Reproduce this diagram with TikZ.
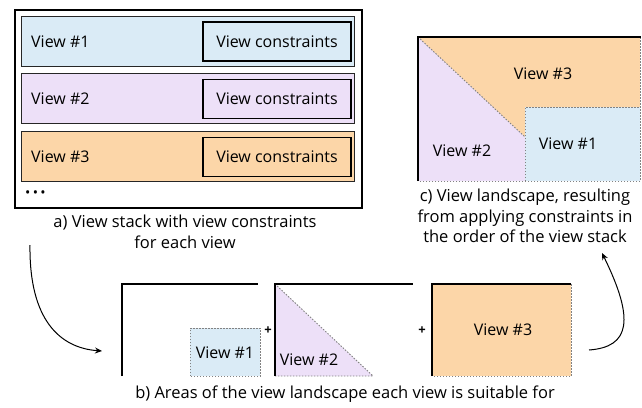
\documentclass[tikz,border=0pt]{standalone}
\usepackage{fontspec}
\setmainfont{Open Sans}
\usetikzlibrary{arrows.meta}
\definecolor{vblue}{RGB}{218,235,246}
\definecolor{vpurple}{RGB}{237,224,248}
\definecolor{vorange}{RGB}{252,214,168}
\definecolor{dotgray}{RGB}{130,130,130}
\tikzset{
  rowbox/.style={draw=black!85, line width=1.3pt, minimum width=333pt, minimum height=50pt, inner sep=0pt},
  conbox/.style={draw=black, line width=1.6pt, minimum width=148pt, minimum height=39pt, inner sep=0pt, font=\fontsize{16}{19}\selectfont},
  lbl/.style={font=\fontsize{16}{19}\selectfont, inner sep=0pt},
  captext/.style={font=\fontsize{16.5}{20.5}\selectfont, align=center, inner sep=0pt},
  frameline/.style={line width=1.6pt, black},
  dotline/.style={dotgray, line width=0.9pt, dash pattern=on 1.5pt off 1.5pt},
  curvearrow/.style={line width=1pt, -{Stealth[length=7pt,width=6pt]}},
}
\begin{document}
\begin{tikzpicture}[x=1pt,y=-1pt]
\useasboundingbox (0,0) rectangle (642,407);
% ---------- panel a ----------
\node[draw=black, line width=1.6pt, minimum width=347pt, minimum height=198pt, inner sep=0pt] (stack) at (188.5,109) {};
\node[rowbox, fill=vblue] (r1) at (188.3,41.3) {};
\node[rowbox, fill=vpurple] (r2) at (188.3,98.5) {};
\node[rowbox, fill=vorange] (r3) at (188.3,156.5) {};
\node[lbl, anchor=west] (t1) at (31,42) {View \#1};
\node[lbl, anchor=west] (t2) at (31,99) {View \#2};
\node[lbl, anchor=west] (t3) at (31,157) {View \#3};
\node[conbox] (c1) at (277,41.5) {View constraints};
\node[conbox] (c2) at (277,99) {View constraints};
\node[conbox] (c3) at (277,157) {View constraints};
\node[lbl, anchor=west, font=\fontsize{14}{16}\selectfont] (dots) at (25,194) {\textbullet\,\textbullet\,\textbullet};
\node[captext] (capa) at (185,232) {a) View stack with view constraints\\for each view};
% ---------- panel c ----------
\fill[vorange] (418,37) rectangle (640,181);
\fill[vpurple] (418,37) -- (525,137) -- (525,181) -- (418,181) -- cycle;
\fill[vblue] (525,107) rectangle (640,181);
\draw[dotline] (418,37) -- (525,137);
\draw[dotline] (525,181) -- (525,107) -- (640,107);
\draw[dotline] (640,37) -- (640,181) -- (418,181);
\draw[frameline] (418,181) -- (418,37) -- (640.5,37);
\node[lbl] (l3) at (543,74) {View \#3};
\node[lbl] (l2) at (462,151) {View \#2};
\node[lbl] (l1) at (568,144) {View \#1};
\node[captext] (capc) at (525,216) {c) View landscape, resulting\\from applying constraints in\\the order of the view stack};
% ---------- panel b ----------
% frame 1
\fill[vblue] (190,328) rectangle (260,376);
\draw[dotline] (190,376) rectangle (260,328);
\draw[frameline] (122,376) -- (122,284) -- (258,284);
\node[lbl] (b1) at (225,353) {View \#1};
\node[lbl, font=\bfseries\fontsize{13}{14}\selectfont] (p1) at (268,331) {+};
% frame 2
\fill[vpurple] (275,284) -- (373,376) -- (275,376) -- cycle;
\draw[dotline] (275,284) -- (373,376) -- (275,376);
\draw[frameline] (275,376) -- (275,284) -- (413,284);
\node[lbl] (b2) at (309,360) {View \#2};
\node[lbl, font=\bfseries\fontsize{13}{14}\selectfont] (p2) at (422,331) {+};
% frame 3
\fill[vorange] (432,284) rectangle (571,376);
\draw[dotline] (571,284) -- (571,376) -- (432,376);
\draw[frameline] (432,376) -- (432,284) -- (571,284);
\node[lbl] (b3) at (503,330) {View \#3};
\node[captext] (capb) at (345,394) {b) Areas of the view landscape each view is suitable for};
% ---------- arrows ----------
\coordinate (a1s) at (30,245);
\coordinate (a1e) at (102,351);
\draw[curvearrow] (a1s) .. controls (29,320) and (60,348) .. (a1e);
\coordinate (a2s) at (589,350);
\coordinate (a2e) at (602,253);
\draw[curvearrow] (a2s) .. controls (630,347) and (635,320) .. (a2e);
\end{tikzpicture}
\end{document}
